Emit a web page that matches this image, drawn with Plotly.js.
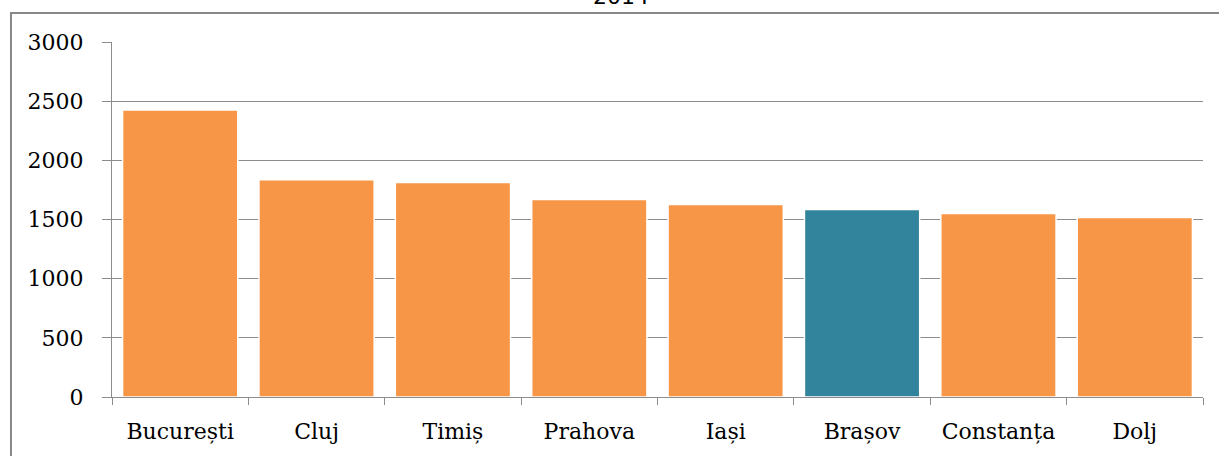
<!DOCTYPE html>
<html>
<head>
<meta charset="utf-8">
<script src="https://cdn.plot.ly/plotly-3.0.1.min.js"></script>
<style>
  html, body { margin: 0; padding: 0; background: #fff; }
  #chart { width: 1219px; height: 456px; }
</style>
</head>
<body>
<div id="chart"></div>
<script>
const categories = ["București", "Cluj", "Timiș", "Prahova", "Iași", "Brașov", "Constanța", "Dolj"];
const values = [2425, 1835, 1812, 1668, 1626, 1585, 1550, 1517];
const highlight = "Brașov";
const yTicks = [0, 500, 1000, 1500, 2000, 2500, 3000];
const titleText = "2014";

const orange = "#F79646";
const teal = "#31849B";
const colors = categories.map(c => c === highlight ? teal : orange);

const serif = "DejaVu Serif, Liberation Serif, serif";

const trace = {
  type: "bar",
  x: categories,
  y: values,
  marker: { color: colors, line: { color: "#ffffff", width: 1.5 } },
  hoverinfo: "x+y"
};

const layout = {
  width: 1219,
  height: 456,
  margin: { l: 112, r: 16, t: 42, b: 59, pad: 0 },
  paper_bgcolor: "#ffffff",
  plot_bgcolor: "#ffffff",
  showlegend: false,
  bargap: 0.155,
  annotations: [{
    text: titleText,
    xref: "paper", yref: "paper",
    x: 0.4666, y: 1.127,
    xanchor: "center", yanchor: "middle",
    showarrow: false,
    font: { family: "DejaVu Sans, sans-serif", size: 22, color: "#000" }
  }],
  xaxis: {
    type: "category",
    showline: true, linecolor: "#8c8c8c", linewidth: 1,
    ticks: "outside", ticklen: 7, tickcolor: "#8c8c8c", tickwidth: 1,
    tickson: "boundaries",
    showgrid: false,
    tickfont: { family: serif, size: 22, color: "#000" },
    ticklabelstandoff: 15
  },
  yaxis: {
    range: [0, 3000],
    tickvals: yTicks,
    showline: true, linecolor: "#8c8c8c", linewidth: 1,
    ticks: "outside", ticklen: 9, tickcolor: "#8c8c8c", tickwidth: 1,
    showgrid: true, gridcolor: "#8c8c8c", gridwidth: 1,
    zeroline: false,
    tickfont: { family: serif, size: 22, color: "#000" },
    ticklabelstandoff: 14
  },
  shapes: [{
    type: "rect", xref: "paper", yref: "paper",
    x0: -0.0926, x1: 1.1, y0: -0.4, y1: 1.0817,
    line: { color: "#888888", width: 2 },
    fillcolor: "rgba(0,0,0,0)",
    layer: "below"
  }]
};

Plotly.newPlot("chart", [trace], layout, { displayModeBar: false, staticPlot: true });
</script>
</body>
</html>
